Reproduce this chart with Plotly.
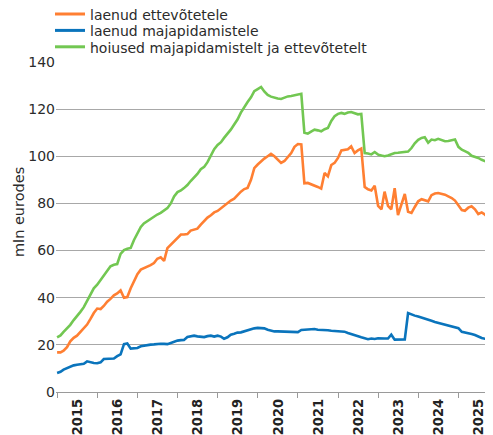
import pandas as pd
import plotly.graph_objects as go

# Monthly values, Jan 2015 .. Nov 2025 (mln eurodes)
laenud_ettevotetele = [
    16.8, 16.8, 17.5, 19.0, 21.5, 23.0, 23.9, 25.5, 27.0, 28.6, 31.0, 33.5,
    35.4, 35.2, 36.5, 38.3, 39.5, 41.0, 41.8, 43.1, 40.0, 40.3, 44.0, 47.3,
    50.0, 51.9, 52.4, 53.0, 53.8, 54.7, 56.5, 57.1, 55.6, 61.0, 62.5, 64.0,
    65.5, 66.8, 66.8, 67.0, 68.5, 68.8, 69.3, 71.0, 72.6, 74.0, 75.0, 76.2,
    76.8, 78.0, 78.8, 80.0, 81.2, 82.0, 83.5, 85.0, 86.1, 86.6, 90.0, 95.0,
    96.5, 98.0, 99.0, 100.0, 101.0, 100.0, 98.5, 97.2, 98.0, 99.5, 101.4, 104.0,
    105.2, 105.0, 88.5, 88.7, 88.2, 87.7, 87.0, 86.3, 92.9, 91.5, 96.3, 97.2,
    99.3, 102.5, 102.8, 103.0, 104.2, 101.4, 102.5, 103.3, 87.0, 86.0, 85.5, 87.5,
    79.0, 77.5, 85.0, 79.0, 77.5, 86.5, 75.0, 79.5, 84.0, 76.5, 76.0, 78.5,
    80.9, 81.8, 81.5, 80.9, 83.5, 84.2, 84.4, 84.2, 83.7, 83.0, 82.3, 81.2,
    79.0, 77.2, 76.9, 78.2, 78.8, 77.5, 75.5, 76.2, 75.2, 73.8, 75.5,
]
laenud_majapidamistele = [
    8.1, 8.6, 9.5, 10.2, 10.8, 11.3, 11.6, 11.8, 12.0, 13.0, 12.5, 12.3,
    12.2, 12.6, 14.0, 14.0, 14.1, 14.2, 15.2, 16.0, 20.3, 20.6, 18.4, 18.5,
    18.7, 19.4, 19.7, 19.8, 20.1, 20.2, 20.4, 20.5, 20.4, 20.3, 20.8, 21.4,
    21.8, 22.0, 22.1, 23.3, 23.6, 23.9, 23.6, 23.3, 23.3, 23.7, 23.9, 23.5,
    23.9, 23.5, 22.6, 23.2, 24.3, 24.7, 25.2, 25.3, 25.8, 26.0, 26.6, 27.0,
    27.2, 27.2, 27.0, 26.4, 26.0, 25.7, 25.7, 25.6, 25.6, 25.4, 25.3, 25.2,
    25.4, 26.3, 26.4, 26.4, 26.6, 26.7, 26.4, 26.4, 26.3, 26.2, 26.0, 25.9,
    25.8, 25.8, 25.6, 25.0, 24.5, 24.0, 23.6, 23.2, 22.8, 22.4, 22.7, 22.5,
    22.8, 22.6, 22.7, 22.7, 24.3, 22.2, 22.3, 22.2, 22.3, 33.5, 32.8, 32.4,
    32.0, 31.6, 31.1, 30.6, 30.2, 29.7, 29.3, 28.9, 28.5, 28.1, 27.8, 27.4,
    27.1, 25.5, 25.3, 25.0, 24.6, 24.2, 23.4, 22.9, 22.6, 22.3, 21.9,
]
hoiused = [
    23.2, 24.0, 25.5, 27.0, 28.5, 30.5, 32.0, 34.0, 36.0, 38.5, 41.0, 44.0,
    45.5, 47.5, 49.0, 51.0, 53.3, 54.0, 54.3, 58.6, 60.2, 60.8, 61.1, 64.5,
    67.5, 70.0, 71.5, 72.5, 73.5, 74.5, 75.3, 76.0, 77.0, 78.0, 80.0, 83.0,
    84.8, 85.5, 86.5, 87.8, 89.5, 91.0, 92.5, 94.5, 95.5, 97.5, 100.5, 103.0,
    104.8, 106.0, 107.8, 109.5, 111.3, 113.5, 115.6, 118.5, 121.0, 123.0, 125.0, 127.6,
    128.5, 129.4, 127.5, 126.0, 125.3, 124.8, 124.5, 124.3, 125.0, 125.4, 125.6, 125.9,
    126.3, 126.5, 110.0, 109.6, 110.5, 111.3, 111.0, 110.6, 111.5, 112.0, 115.0, 117.0,
    118.0, 118.4, 118.0, 118.6, 118.8, 118.2, 117.8, 118.0, 101.4, 101.2, 100.8, 101.8,
    100.7, 100.3, 100.0, 100.3, 100.8, 101.4, 101.5, 101.6, 101.8, 102.0, 103.5, 105.5,
    107.0, 107.8, 108.1, 105.8, 107.1, 106.8, 107.4, 106.8, 106.4, 106.5, 106.8, 107.1,
    104.0, 102.8, 102.2, 101.5, 100.2, 99.8, 99.3, 98.5, 97.9, 97.0, 96.7,
]
months = pd.date_range("2015-01-01", periods=len(hoiused), freq="MS")
years = list(range(2015, 2026))
year_labels = [str(y) for y in years]

names = ["laenud ettevõtetele", "laenud majapidamistele", "hoiused majapidamistelt ja ettevõtetelt"]
colors = ["#FF7F32", "#0A74BC", "#72C752"]
FONT = "DejaVu Sans, Liberation Sans, sans-serif"
XFONT = "Liberation Sans Narrow, DejaVu Sans Condensed, Liberation Sans, sans-serif"
TXT = "#2b2b2b"

# page has an 8px body margin, so the figure is drawn 8px smaller and offset
OFF = 8
PAGE_W, PAGE_H = 493, 435
PL, PR, PT, PB = 56, 493, 62, 392          # plot area in page pixels
W, H = PAGE_W - OFF, PAGE_H - OFF
L, T = PL - OFF, PT - OFF
R = W - (PR - OFF)
B = H - (PB - OFF)
PW, PH = PR - PL, PB - PT


def px(xp):
    return (xp - PL) / PW


def py(yp):
    return (PB - yp) / PH


fig = go.Figure()
for name, vals, col in zip(names, [laenud_ettevotetele, laenud_majapidamistele, hoiused], colors):
    fig.add_trace(go.Scatter(x=months, y=vals, mode="lines", name=name,
                             line=dict(color=col, width=2.6), showlegend=False))

# manual legend (tight row spacing like the reference)
shapes, annotations = [], []
legend_rows = [14.8, 31.2, 47.6]
for name, col, yr in zip(names, colors, legend_rows):
    shapes.append(dict(type="line", xref="paper", yref="paper",
                       x0=px(55), x1=px(85), y0=py(yr - 0.8), y1=py(yr - 0.8),
                       line=dict(color=col, width=3)))
    annotations.append(dict(text=name, xref="paper", yref="paper",
                            x=px(89), y=py(yr), xanchor="left", yanchor="middle",
                            showarrow=False, borderpad=0,
                            font=dict(family=FONT, size=14, color=TXT)))

annotations.append(dict(text="mln eurodes", textangle=-90, xref="paper", yref="paper",
                        x=px(19), y=py(212), xanchor="center", yanchor="middle",
                        showarrow=False, font=dict(family=FONT, size=14.5, color=TXT)))

fig.update_layout(
    width=W, height=H,
    margin=dict(l=L, r=R, t=T, b=B, autoexpand=False),
    paper_bgcolor="white", plot_bgcolor="white",
    font=dict(family=FONT, size=14, color=TXT),
    showlegend=False,
    xaxis=dict(
        type="date", automargin=False,
        range=[pd.Timestamp("2014-12-22"), pd.Timestamp("2025-11-12")],
        tickvals=[pd.Timestamp(f"{y}-07-02") for y in years],
        ticktext=year_labels,
        tickangle=-90,
        tickfont=dict(family=XFONT, size=14.5, weight="bold", color="#222"),
        ticks="",
        showgrid=False,
        showline=True, linecolor="#9a9a9a", linewidth=1.2,
        minor=dict(ticks="outside", ticklen=5, tickcolor="#9a9a9a", tickwidth=1.2,
                   tick0="2015-01-01", dtick="M12", showgrid=False),
        zeroline=False,
    ),
    yaxis=dict(
        automargin=False,
        range=[0, 140], tickvals=[0, 20, 40, 60, 80, 100, 120, 140],
        showgrid=True, gridcolor="#a8a8a8", gridwidth=1.2,
        zeroline=False, showline=False, ticks="",
        tickfont=dict(family=FONT, size=14, color=TXT),
    ),
    shapes=shapes,
    annotations=annotations,
)

fig.write_html("out.html")
